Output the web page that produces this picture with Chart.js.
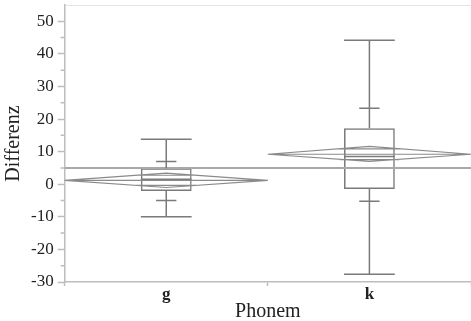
<!DOCTYPE html>
<html>
<head>
<meta charset="utf-8">
<script src="https://cdn.jsdelivr.net/npm/chart.js@4/dist/chart.umd.min.js"></script>
<style>
  html, body { margin: 0; padding: 0; background: #fff; }
  #wrap { width: 471px; height: 321px; }
</style>
</head>
<body>
<div id="wrap"><canvas id="myChart"></canvas></div>
<script>
// Phonem-Gruppen
const categories = ["g", "k"]

// Box plot werte
const whiskerLow  = [-10, -27.6]
const q10         = [-5, -5.2]
const q1          = [-2.1, -1.5]
const median      = [1.5, 8.5]
const q3          = [4.9, 17.2]
const q90         = [7, 23.3]
const whiskerHigh = [13.8, 44.2]

// mittelwert-diamanten
const means  = [1.2, 9.2]
const ciLow  = [-1, 7]
const ciHigh = [3.4, 11.6]
const grandMean = 5

const yMin = -30
const yMax = 55

const boxColor = "#7a7a7a"
const axisColor = "#bdbdbd"

// zeichnet whisker, diamanten, mittelwertlinie
const boxPlugin = {
  id: "boxExtras",
  afterDatasetsDraw(chart) {
    const ctx = chart.ctx
    const x = chart.scales.x
    const y = chart.scales.y
    const area = chart.chartArea
    const catW = x.getPixelForValue(1) - x.getPixelForValue(0)

    ctx.save()

    // grand mean linie
    ctx.strokeStyle = "#a9a9a9"
    ctx.lineWidth = 2
    ctx.beginPath()
    ctx.moveTo(area.left, y.getPixelForValue(grandMean))
    ctx.lineTo(area.right, y.getPixelForValue(grandMean))
    ctx.stroke()

    for (let i = 0; i < categories.length; i++) {
      const cx = x.getPixelForValue(i)
      const boxHalf = catW * 0.125
      const tickHalf = catW * 0.05

      ctx.strokeStyle = boxColor
      ctx.lineWidth = 1.5
      ctx.beginPath()
      // whisker oben
      ctx.moveTo(cx, y.getPixelForValue(q3[i]))
      ctx.lineTo(cx, y.getPixelForValue(whiskerHigh[i]))
      ctx.moveTo(cx - boxHalf, y.getPixelForValue(whiskerHigh[i]))
      ctx.lineTo(cx + boxHalf, y.getPixelForValue(whiskerHigh[i]))
      // whisker unten
      ctx.moveTo(cx, y.getPixelForValue(q1[i]))
      ctx.lineTo(cx, y.getPixelForValue(whiskerLow[i]))
      ctx.moveTo(cx - boxHalf, y.getPixelForValue(whiskerLow[i]))
      ctx.lineTo(cx + boxHalf, y.getPixelForValue(whiskerLow[i]))
      // quantil striche
      ctx.moveTo(cx - tickHalf, y.getPixelForValue(q90[i]))
      ctx.lineTo(cx + tickHalf, y.getPixelForValue(q90[i]))
      ctx.moveTo(cx - tickHalf, y.getPixelForValue(q10[i]))
      ctx.lineTo(cx + tickHalf, y.getPixelForValue(q10[i]))
      // median
      ctx.moveTo(cx - boxHalf, y.getPixelForValue(median[i]))
      ctx.lineTo(cx + boxHalf, y.getPixelForValue(median[i]))
      ctx.stroke()

      // diamant
      const left = cx - catW / 2
      const right = cx + catW / 2
      const ym = y.getPixelForValue(means[i])
      const yTop = y.getPixelForValue(ciHigh[i])
      const yBot = y.getPixelForValue(ciLow[i])
      ctx.strokeStyle = "#8a8a8a"
      ctx.lineWidth = 1.2
      ctx.beginPath()
      ctx.moveTo(left, ym)
      ctx.lineTo(cx, yTop)
      ctx.lineTo(right, ym)
      ctx.lineTo(cx, yBot)
      ctx.closePath()
      ctx.moveTo(left, ym)
      ctx.lineTo(right, ym)
      // overlap marks
      const half = (ciHigh[i] - ciLow[i]) / 2
      const ov = half / Math.SQRT2
      const ovW = catW / 2 * (1 - 1 / Math.SQRT2)
      ctx.moveTo(cx - ovW, y.getPixelForValue(means[i] + ov))
      ctx.lineTo(cx + ovW, y.getPixelForValue(means[i] + ov))
      ctx.moveTo(cx - ovW, y.getPixelForValue(means[i] - ov))
      ctx.lineTo(cx + ovW, y.getPixelForValue(means[i] - ov))
      ctx.stroke()
    }

    // oberer rand gepunktet
    ctx.strokeStyle = "#c8c8c8"
    ctx.lineWidth = 1
    ctx.setLineDash([1, 1])
    ctx.beginPath()
    ctx.moveTo(area.left, area.top + 0.5)
    ctx.lineTo(area.right, area.top + 0.5)
    ctx.stroke()
    ctx.setLineDash([])

    // kleine striche y-achse
    ctx.strokeStyle = axisColor
    ctx.lineWidth = 1.5
    ctx.beginPath()
    for (let v = yMin + 5; v < yMax; v += 10) {
      const py = y.getPixelForValue(v)
      ctx.moveTo(area.left - 4, py)
      ctx.lineTo(area.left, py)
    }
    ctx.stroke()

    ctx.restore()
  }
}

const updatee = new Chart("myChart", {
  type: "bar",
  data: {
    labels: categories,
    datasets: [{
      label: "Box",
      data: categories.map((c, i) => [q1[i], q3[i]]),
      backgroundColor: "rgba(0,0,0,0)",
      borderColor: boxColor,
      borderWidth: 1.5,
      borderSkipped: false,
      barPercentage: 0.25,
      categoryPercentage: 1
    }]
  },
  options: {
    responsive: true,
    maintainAspectRatio: false,
    animation: false,
    events: [],
    layout: { padding: { top: 5, right: 0, left: 2, bottom: 0 } },
    plugins: {
      legend: { display: false },
      tooltip: { enabled: false }
    },
    scales: {
      x: {
        type: "category",
        offset: true,
        grid: {
          offset: true,
          drawOnChartArea: false,
          tickLength: 4,
          tickColor: axisColor,
          tickWidth: 1.5
        },
        border: { color: axisColor, width: 1.5 },
        ticks: {
          color: "#222",
          padding: 0,
          font: { family: "Liberation Serif", size: 17, weight: "bold", lineHeight: 1 }
        },
        title: {
          display: true,
          text: "Phonem",
          color: "#222",
          padding: { top: 0, bottom: 0 },
          font: { family: "Liberation Serif", size: 20, lineHeight: 0.9 }
        }
      },
      y: {
        min: yMin,
        max: yMax,
        afterFit: (scale) => {
          // kein extra platz oben fuer das leere 55-label
          scale.paddingTop = 0
        },
        grid: {
          drawOnChartArea: false,
          tickLength: 7,
          tickWidth: 1.5,
          tickColor: (c) => (c.tick && c.tick.value % 10 === 0 ? axisColor : "rgba(0,0,0,0)")
        },
        border: { color: axisColor, width: 1.5 },
        ticks: {
          stepSize: 5,
          autoSkip: false,
          color: "#222",
          padding: 4,
          font: { family: "Liberation Serif", size: 17 },
          callback: (v) => (v % 10 === 0 && v <= 50 ? v : "")
        },
        title: {
          display: true,
          text: "Differenz",
          color: "#222",
          padding: { top: 0, bottom: 1 },
          font: { family: "Liberation Serif", size: 20, lineHeight: 1.2 }
        }
      }
    }
  },
  plugins: [boxPlugin]
})
</script>
</body>
</html>
